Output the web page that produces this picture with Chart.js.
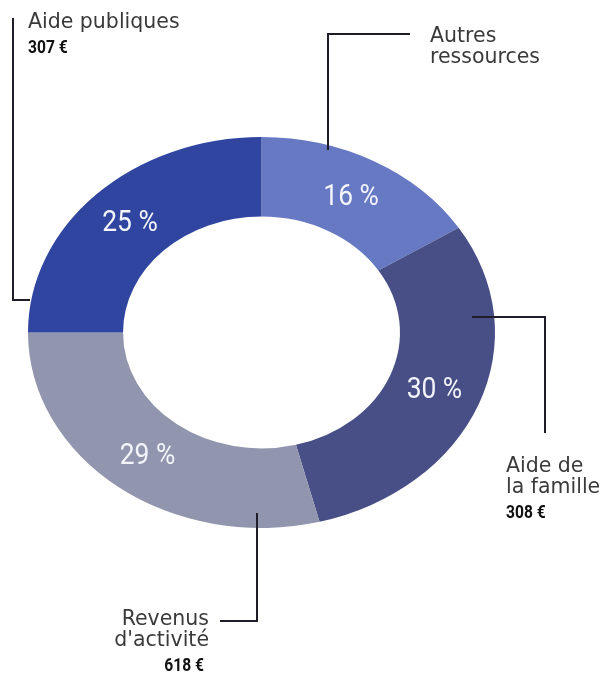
<!DOCTYPE html>
<html>
<head>
<meta charset="utf-8">
<script src="https://cdn.jsdelivr.net/npm/chart.js@4"></script>
<style>
  body { margin: 0; background: #fff; }
  canvas { display: block; }
</style>
</head>
<body>
<canvas id="ressourcesChart" width="605" height="673"></canvas>
<script>
// Données (sens horaire depuis le haut)
const categories = ['Autres ressources', 'Aide de la famille', "Revenus d'activité", 'Aide publiques'];
const shares = [16, 30, 29, 25];
const amounts = [null, 308, 618, 307];
const colors = ['#6679c2', '#474f86', '#9195ad', '#2f45a0'];

// l'anneau est légèrement écrasé verticalement
const squash = 0.837;

// libellés + traits de rappel (mise en page seulement)
const callouts = [
  { lines: ['Autres', 'ressources'], x: 430, y: 42, align: 'left',
    path: [[410, 34], [328, 34], [328, 150]] },
  { lines: ['Aide de', 'la famille'], x: 506, y: 472, align: 'left',
    path: [[472, 317], [545, 317], [545, 433]] },
  { lines: ['Revenus', "d'activité"], x: 209, y: 625, align: 'right',
    path: [[257, 513], [257, 621], [220, 621]] },
  { lines: ['Aide publiques'], x: 28, y: 28, align: 'left',
    path: [[13, 18], [13, 300], [30, 300]] }
];

const ellipsePlugin = {
  id: 'ellipse',
  beforeDatasetsDraw(chart) {
    const ctx = chart.ctx;
    const arc = chart.getDatasetMeta(0).data[0];
    ctx.save();
    ctx.translate(arc.x, arc.y);
    ctx.scale(1, squash);
    ctx.translate(-arc.x, -arc.y);
  },
  afterDatasetsDraw(chart) {
    chart.ctx.restore();
  }
};

const labelsPlugin = {
  id: 'labels',
  afterDraw(chart) {
    const ctx = chart.ctx;
    const arcs = chart.getDatasetMeta(0).data;

    // pourcentages dans l'anneau
    arcs.forEach((arc, i) => {
      const p = arc.getProps(['x', 'y', 'startAngle', 'endAngle', 'innerRadius', 'outerRadius'], true);
      const mid = (p.startAngle + p.endAngle) / 2;
      const r = (p.innerRadius + p.outerRadius) / 2;
      const x = p.x + Math.cos(mid) * r;
      const y = p.y + Math.sin(mid) * r * squash;
      ctx.save();
      ctx.translate(x, y);
      ctx.scale(0.88, 1);
      ctx.fillStyle = '#f4f5fc';
      ctx.font = '30px Roboto, sans-serif';
      ctx.textAlign = 'center';
      ctx.textBaseline = 'middle';
      ctx.fillText(shares[i] + ' %', 0, 1);
      ctx.restore();
    });

    // traits + libellés extérieurs
    callouts.forEach((c, i) => {
      ctx.save();
      ctx.strokeStyle = '#1e1e28';
      ctx.lineWidth = 2;
      ctx.beginPath();
      c.path.forEach(([px, py], k) => k ? ctx.lineTo(px, py) : ctx.moveTo(px, py));
      ctx.stroke();

      ctx.fillStyle = '#3a3a3a';
      ctx.font = '20.5px "DejaVu Sans", sans-serif';
      ctx.textAlign = c.align;
      ctx.textBaseline = 'alphabetic';
      c.lines.forEach((t, k) => ctx.fillText(t, c.x, c.y + k * 21));

      if (amounts[i] != null) {
        const yv = c.y + c.lines.length * 21 + 4;
        ctx.translate(c.align === 'right' ? c.x - 5 : c.x, yv);
        ctx.scale(0.82, 1);
        ctx.fillStyle = '#111';
        ctx.font = 'bold 19px Roboto, sans-serif';
        ctx.fillText(amounts[i] + ' €', 0, 0);
      }
      ctx.restore();
    });
  }
};

new Chart(document.getElementById('ressourcesChart'), {
  type: 'doughnut',
  data: {
    labels: categories,
    datasets: [{
      data: shares,
      backgroundColor: colors,
      borderWidth: 0
    }]
  },
  options: {
    responsive: false,
    animation: false,
    cutout: '59.3%',
    layout: { padding: { left: 28, right: 110, top: 99, bottom: 107 } },
    plugins: {
      legend: { display: false },
      tooltip: { enabled: false }
    }
  },
  plugins: [ellipsePlugin, labelsPlugin]
});
</script>
</body>
</html>
